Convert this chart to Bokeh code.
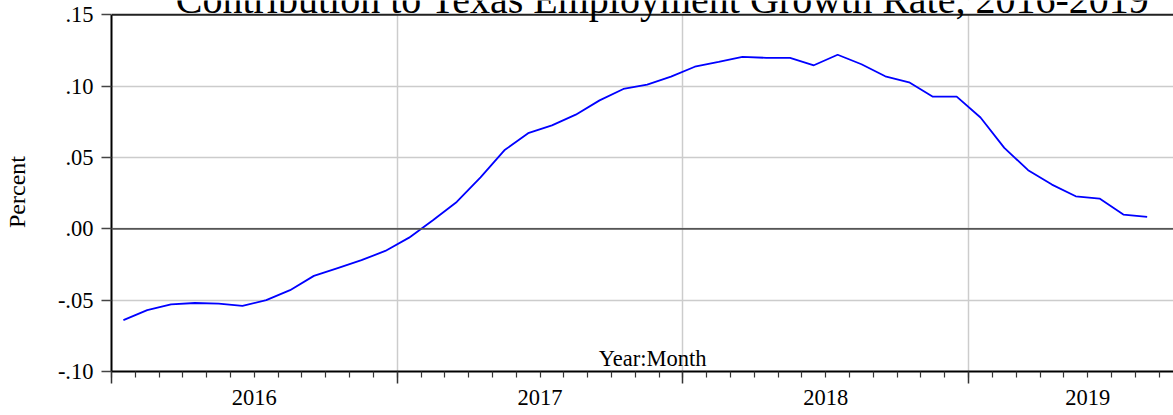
from bokeh.plotting import figure
from bokeh.models import (Range1d, FixedTicker, CustomJSTickFormatter, LinearAxis,
                          Span, Label, BoxAnnotation)
from bokeh.embed import file_html
from bokeh.resources import INLINE

# ---- data -------------------------------------------------------------
months = [
    "2016:01", "2016:02", "2016:03", "2016:04", "2016:05", "2016:06",
    "2016:07", "2016:08", "2016:09", "2016:10", "2016:11", "2016:12",
    "2017:01", "2017:02", "2017:03", "2017:04", "2017:05", "2017:06",
    "2017:07", "2017:08", "2017:09", "2017:10", "2017:11", "2017:12",
    "2018:01", "2018:02", "2018:03", "2018:04", "2018:05", "2018:06",
    "2018:07", "2018:08", "2018:09", "2018:10", "2018:11", "2018:12",
    "2019:01", "2019:02", "2019:03", "2019:04", "2019:05", "2019:06",
    "2019:07", "2019:08",
]
contribution = [
    -0.064, -0.057, -0.053, -0.052, -0.0525, -0.054,
    -0.050, -0.043, -0.033, -0.0275, -0.022, -0.0155,
    -0.0062, 0.006, 0.0188, 0.036, 0.055, 0.067,
    0.0725, 0.080, 0.090, 0.098, 0.101, 0.1066,
    0.1136, 0.117, 0.1205, 0.1198, 0.1198, 0.1146,
    0.122, 0.1153, 0.1069, 0.1027, 0.0926, 0.0926,
    0.078, 0.0567, 0.0411, 0.031, 0.0228, 0.0212,
    0.010, 0.0083,
]
years = [2016, 2017, 2018, 2019]
y_ticks = [-0.10, -0.05, 0.00, 0.05, 0.10, 0.15]
title_text = "Contribution to Texas Employment Growth Rate, 2016-2019"
x_title = "Year:Month"
y_title = "Percent"

# month -> decimal year at the middle of the month
xs = [int(m[:4]) + (int(m[5:]) - 0.5) / 12 for m in months]

FONT = "Liberation Serif"
axis_end = 2019 + 10 / 12          # end of the original time axis (Oct 2019)

# the frame reaches the top of the canvas so that the (cut-off) title is not clipped;
# the plotted area itself ends at .15 (top border line)
p = figure(width=1173, height=415, output_backend="svg", toolbar_location=None,
           x_range=Range1d(2016, 2016 + 1062 / 285.7), y_range=Range1d(-0.10, 0.16),
           min_border_left=111, min_border_right=0, min_border_top=0,
           min_border_bottom=44)
p.title.visible = False
p.outline_line_color = None
p.background_fill_color = "white"
p.border_fill_color = "white"

# grids
for g in (p.xgrid, p.ygrid):
    g.grid_line_color = "#cccccc"
    g.grid_line_width = 1.5

# x axis: ticks only (year boundaries + month minor ticks)
xa = p.xaxis[0]
xa.ticker = FixedTicker(ticks=years,
                        minor_ticks=[y + k / 12 for y in years for k in range(12)])
xa.formatter = CustomJSTickFormatter(code="return ''")
xa.major_label_text_font_size = "1px"
xa.major_label_standoff = 0
xa.major_tick_out = 12
xa.major_tick_in = 0
xa.minor_tick_out = 6
xa.minor_tick_in = 0
xa.axis_line_color = "black"
xa.axis_line_width = 2
xa.major_tick_line_color = "#333333"
xa.minor_tick_line_color = "#333333"
xa.major_tick_line_width = 1.5
xa.minor_tick_line_width = 1.2

# x axis labels centred in each year's span
label_pos = [(y + min(y + 1, axis_end)) / 2 for y in years]
xl = LinearAxis(ticker=FixedTicker(ticks=label_pos),
                formatter=CustomJSTickFormatter(code="return String(Math.floor(tick))"))
xl.axis_line_color = None
xl.major_tick_line_color = None
xl.minor_tick_line_color = None
xl.major_label_standoff = 0
xl.major_label_text_font = FONT
xl.major_label_text_font_size = "22.5px"
xl.major_label_text_color = "black"
p.add_layout(xl, "below")

# y axis
ya = p.yaxis[0]
ya.bounds = (y_ticks[0], y_ticks[-1])
ya.ticker = FixedTicker(ticks=y_ticks)
ya.formatter = CustomJSTickFormatter(code="return tick.toFixed(2).replace('0.', '.')")
ya.major_label_text_font = FONT
ya.major_label_text_font_size = "22.5px"
ya.major_label_text_color = "black"
ya.major_label_standoff = 8
ya.major_tick_out = 10
ya.major_tick_in = 0
ya.minor_tick_line_color = None
ya.axis_line_color = "black"
ya.axis_line_width = 2
ya.major_tick_line_color = "#444444"
ya.major_tick_line_width = 1.5
# two trailing no-break spaces centre the visible word on the .15 to -.10 span
ya.axis_label = y_title + "\u00a0\u00a0"
ya.axis_label_text_font = FONT
ya.axis_label_text_font_size = "24px"
ya.axis_label_text_font_style = "normal"
ya.axis_label_text_color = "black"
ya.axis_label_standoff = 25

# white mask above the plotted area (hides grid lines above .15)
p.add_layout(BoxAnnotation(bottom=y_ticks[-1], fill_color="white", fill_alpha=1.0,
                           line_color=None))

# zero line and top border
p.add_layout(Span(location=0, dimension="width", line_color="#555555", line_width=1.8))
p.add_layout(Span(location=y_ticks[-1], dimension="width", line_color="#222222",
                  line_width=2))

# data line
p.line(xs, contribution, line_color="#0000ff", line_width=1.8)

# x axis title inside the frame
p.add_layout(Label(x=2017.894, y=-0.0912, text=x_title, text_font=FONT,
                   text_font_size="22.5px", text_align="center",
                   text_baseline="middle", text_color="black"))

# chart title (partially cut off at the top, as in the reference)
p.add_layout(Label(x=2017.929, y=0.16105, text=title_text, text_font=FONT,
                   text_font_size="40px", text_align="center",
                   text_baseline="middle", text_color="black"))

open("out.html", "w").write(file_html(p, INLINE))
